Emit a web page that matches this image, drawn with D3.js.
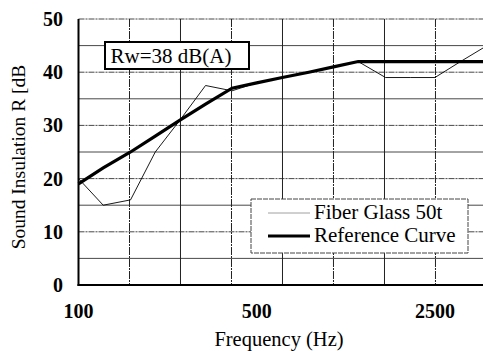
<!DOCTYPE html>
<html lang="en">
<head>
<meta charset="utf-8">
<title>Sound insulation</title>
<script src="https://cdn.jsdelivr.net/npm/d3@7"></script>
<style>
  body { margin: 0; background: #fff; }
</style>
</head>
<body>
<div id="vis"></div>
<script>
// 1/3 octave band centre frequencies (Hz)
var freqs = [100, 125, 160, 200, 250, 315, 400, 500, 630, 800, 1000, 1250, 1600, 2000, 2500, 3150, 4000];
var fiberGlass = [20, 15, 16, 25, 31, 37.5, 36.5, 38, 39, 40, 41, 42, 39, 39, 39, 42, 45];
var reference = [19, 22, 25, 28, 31, 34, 37, 38, 39, 40, 41, 42, 42, 42, 42, 42, 42];
var gridFreqs = [100, 158.5, 251.2, 398.1, 631, 1000, 1585, 2512, 3981];
var xTicks = [100, 500, 2500];
var yTicks = [0, 10, 20, 30, 40, 50];
var yGrid = [5, 10, 15, 20, 25, 30, 35, 40, 45, 50];
var seriesNames = ["Fiber Glass 50t", "Reference Curve"];

var FONT = "'Liberation Serif', 'Times New Roman', serif";
var W = 483, H = 351;
var svg = d3.select("#vis").append("svg").attr("width", W).attr("height", H)
  .attr("font-family", FONT);

var x = d3.scaleLog().domain([100, 4000]).range([78.5, 487]);
var y = d3.scaleLinear().domain([0, 50]).range([285, 19]);

// grid
svg.append("g").selectAll("line").data(yGrid).enter().append("line")
  .attr("x1", x(100)).attr("x2", W)
  .attr("y1", function(d) { return y(d); }).attr("y2", function(d) { return y(d); })
  .attr("stroke", "#333").attr("stroke-width", 0.9)
  .attr("stroke-dasharray", function(d) { return d % 10 === 0 ? "6,1,2,1" : null; });

svg.append("g").selectAll("line").data(gridFreqs.slice(1)).enter().append("line")
  .attr("x1", function(d) { return x(d); }).attr("x2", function(d) { return x(d); })
  .attr("y1", y(50)).attr("y2", y(0))
  .attr("stroke", "#222").attr("stroke-width", 1)
  .attr("stroke-dasharray", function(d, i) { return i % 2 === 0 ? "8,1,2,1" : null; });

// axes lines
svg.append("line").attr("x1", x(100)).attr("x2", x(100)).attr("y1", y(50)).attr("y2", y(0) + 1)
  .attr("stroke", "#000").attr("stroke-width", 2);
svg.append("line").attr("x1", x(100) - 1).attr("x2", W).attr("y1", y(0)).attr("y2", y(0))
  .attr("stroke", "#000").attr("stroke-width", 2);

// tick labels
svg.append("g").selectAll("text").data(yTicks).enter().append("text")
  .attr("x", 63).attr("y", function(d) { return y(d) + 7; })
  .attr("text-anchor", "end").attr("font-size", 20).attr("font-weight", "bold")
  .text(function(d) { return d; });

svg.append("g").selectAll("text").data(xTicks).enter().append("text")
  .attr("x", function(d) { return x(d); }).attr("y", 318)
  .attr("text-anchor", "middle").attr("font-size", 20).attr("font-weight", "bold")
  .text(function(d) { return d; });

svg.append("text").attr("x", 279).attr("y", 346).attr("text-anchor", "middle")
  .attr("font-size", 20.5).text("Frequency (Hz)");

svg.append("text").attr("transform", "translate(25,157) rotate(-90)")
  .attr("text-anchor", "middle").attr("font-size", 19.5).text("Sound Insulation R [dB");

// lines
var line = d3.line()
  .x(function(d) { return x(d[0]); })
  .y(function(d) { return y(d[1]); });

svg.append("path").datum(d3.zip(freqs, fiberGlass)).attr("d", line)
  .attr("fill", "none").attr("stroke", "#000").attr("stroke-width", 0.9);
svg.append("path").datum(d3.zip(freqs, reference)).attr("d", line)
  .attr("fill", "none").attr("stroke", "#000").attr("stroke-width", 3.2);

// Rw box
var rw = svg.append("g").attr("transform", "translate(105,42)");
rw.append("rect").attr("width", 144).attr("height", 27)
  .attr("fill", "#fff").attr("stroke", "#000").attr("stroke-width", 2);
rw.append("text").attr("x", 66).attr("y", 20.5).attr("text-anchor", "middle")
  .attr("font-size", 21).text("Rw=38 dB(A)");

// legend
var lg = svg.append("g").attr("transform", "translate(251,199)");
lg.append("rect").attr("width", 217).attr("height", 54)
  .attr("fill", "#fff").attr("stroke", "#444").attr("stroke-width", 1)
  .attr("stroke-dasharray", "5,1");
lg.selectAll("line").data(seriesNames).enter().append("line")
  .attr("x1", 17).attr("x2", 59)
  .attr("y1", function(d, i) { return 14 + i * 23; }).attr("y2", function(d, i) { return 14 + i * 23; })
  .attr("stroke", function(d, i) { return i ? "#000" : "#888"; })
  .attr("stroke-width", function(d, i) { return i ? 3.2 : 0.8; });
lg.selectAll("text").data(seriesNames).enter().append("text")
  .attr("x", 63).attr("y", function(d, i) { return 20 + i * 23; })
  .attr("font-size", 21).text(function(d) { return d; });
</script>
</body>
</html>
